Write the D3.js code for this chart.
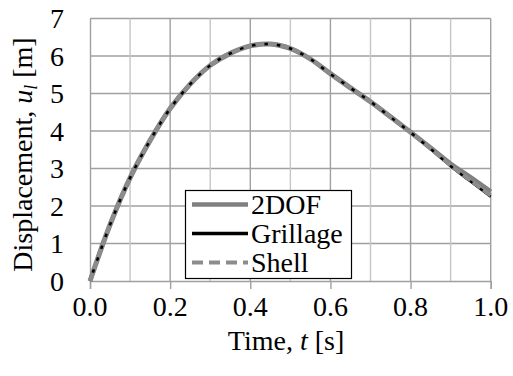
<!DOCTYPE html>
<html><head><meta charset="utf-8">
<script src="https://cdn.jsdelivr.net/npm/d3@7"></script>
<style>
html,body{margin:0;padding:0;background:#fff;}
</style></head>
<body><svg id="c" width="513" height="376"></svg>
<script>
const times = [0, 0.05, 0.1, 0.15, 0.2, 0.25, 0.3, 0.35, 0.4, 0.45, 0.5, 0.55, 0.6, 0.65, 0.7, 0.75, 0.8, 0.85, 0.9, 0.95, 1.0];
const dof2     = [0, 1.5, 2.75, 3.75, 4.6, 5.25, 5.75, 6.07, 6.27, 6.32, 6.2, 5.92, 5.53, 5.15, 4.78, 4.38, 3.97, 3.55, 3.12, 2.76, 2.38];
const grillage = [0, 1.5, 2.75, 3.75, 4.6, 5.25, 5.75, 6.07, 6.27, 6.32, 6.2, 5.92, 5.52, 5.15, 4.78, 4.37, 3.96, 3.52, 3.06, 2.65, 2.25];
const shell    = [0, 1.5, 2.75, 3.75, 4.6, 5.25, 5.75, 6.07, 6.27, 6.32, 6.2, 5.92, 5.52, 5.15, 4.78, 4.37, 3.96, 3.53, 3.08, 2.68, 2.28];
const xTicks = [0, 0.2, 0.4, 0.6, 0.8, 1.0];
const xGrid = [0.1, 0.2, 0.3, 0.4, 0.5, 0.6, 0.7, 0.8, 0.9, 1.0];
const yTicks = [0, 1, 2, 3, 4, 5, 6, 7];
const seriesNames = ["2DOF", "Grillage", "Shell"];

const FF = "Liberation Serif";
const FS = 28;
const svg = d3.select("#c").attr("font-family", FF);
const x = d3.scaleLinear().domain([0, 1]).range([90, 490.7]);
const y = d3.scaleLinear().domain([0, 7]).range([281, 18.5]);
const dark = "#a0a0a0", light = "#c6c6c6";
const fx = d3.format(".1f");

// horizontal grid
svg.append("g").selectAll("line").data(yTicks.filter(d => d > 0)).join("line")
  .attr("x1", x(0)).attr("x2", x(1)).attr("y1", d => y(d)).attr("y2", d => y(d))
  .attr("stroke", dark).attr("stroke-width", 1.4);
// vertical grid
svg.append("g").selectAll("line").data(xGrid).join("line")
  .attr("x1", d => x(d)).attr("x2", d => x(d)).attr("y1", y(0)).attr("y2", y(7))
  .attr("stroke", d => (Math.round(d * 10) % 2 === 0) ? dark : light).attr("stroke-width", 1.4);

// x axis
const xAxis = svg.append("g").attr("transform", `translate(0,${y(0)})`)
  .call(d3.axisBottom(x).tickValues(xTicks).tickFormat(() => "").tickSize(8));
xAxis.select(".domain").attr("stroke", dark).attr("stroke-width", 1.4);
xAxis.selectAll(".tick line").attr("stroke", dark).attr("stroke-width", 1.4);
svg.append("g").selectAll("text").data(xTicks).join("text")
  .attr("x", d => x(d)).attr("y", 315.5).attr("text-anchor", "middle")
  .attr("font-family", FF).attr("font-size", FS).text(d => fx(d));

// y axis
const yAxis = svg.append("g").attr("transform", `translate(${x(0)},0)`)
  .call(d3.axisLeft(y).tickValues(yTicks).tickFormat(() => "").tickSize(0));
yAxis.select(".domain").attr("stroke", dark).attr("stroke-width", 1.4);
svg.append("g").selectAll("text").data(yTicks).join("text")
  .attr("x", 64).attr("y", d => y(d) + 9.5).attr("text-anchor", "end")
  .attr("font-family", FF).attr("font-size", FS).text(d => d3.format("d")(d));

// lines
const line = d3.line().x((d, i) => x(times[i])).y(d => y(d)).curve(d3.curveCatmullRom.alpha(0.5));
svg.append("path").datum(dof2).attr("d", line).attr("fill", "none")
  .attr("stroke", "#808080").attr("stroke-width", 5);
svg.append("path").datum(grillage).attr("d", line).attr("fill", "none")
  .attr("stroke", "#000").attr("stroke-width", 2.5);
svg.append("path").datum(shell).attr("d", line).attr("fill", "none")
  .attr("stroke", "#8c8c8c").attr("stroke-width", 4).attr("stroke-dasharray", "9,3.5");

// legend
const lg = svg.append("g");
lg.append("rect").attr("x", 185.5).attr("y", 190.5).attr("width", 166).attr("height", 88)
  .attr("fill", "#fff").attr("stroke", "#000").attr("stroke-width", 1.2);
const rows = [213.5, 242.5, 271.5];
const styles = [
  {c: "#808080", w: 4.5, d: null},
  {c: "#000", w: 3.5, d: null},
  {c: "#8c8c8c", w: 4, d: "11,6"}
];
seriesNames.forEach((n, i) => {
  lg.append("line").attr("x1", 192).attr("x2", 248).attr("y1", rows[i] - 9).attr("y2", rows[i] - 9)
    .attr("stroke", styles[i].c).attr("stroke-width", styles[i].w)
    .attr("stroke-dasharray", styles[i].d);
  lg.append("text").attr("x", 251).attr("y", rows[i])
    .attr("font-family", FF).attr("font-size", FS).text(n);
});

// axis titles
const xt = svg.append("text").attr("x", 286).attr("y", 350).attr("text-anchor", "middle")
  .attr("font-family", FF).attr("font-size", FS);
xt.append("tspan").text("Time, ");
xt.append("tspan").attr("font-style", "italic").text("t");
xt.append("tspan").text(" [s]");

const yt = svg.append("text").attr("transform", "translate(32,154.5) rotate(-90)")
  .attr("text-anchor", "middle").attr("font-family", FF).attr("font-size", FS);
yt.append("tspan").text("Displacement, ");
yt.append("tspan").attr("font-style", "italic").text("u");
yt.append("tspan").attr("font-style", "italic").attr("font-size", 18).attr("dy", 5).text("l");
yt.append("tspan").attr("dy", -5).text(" [m]");
</script></body></html>
